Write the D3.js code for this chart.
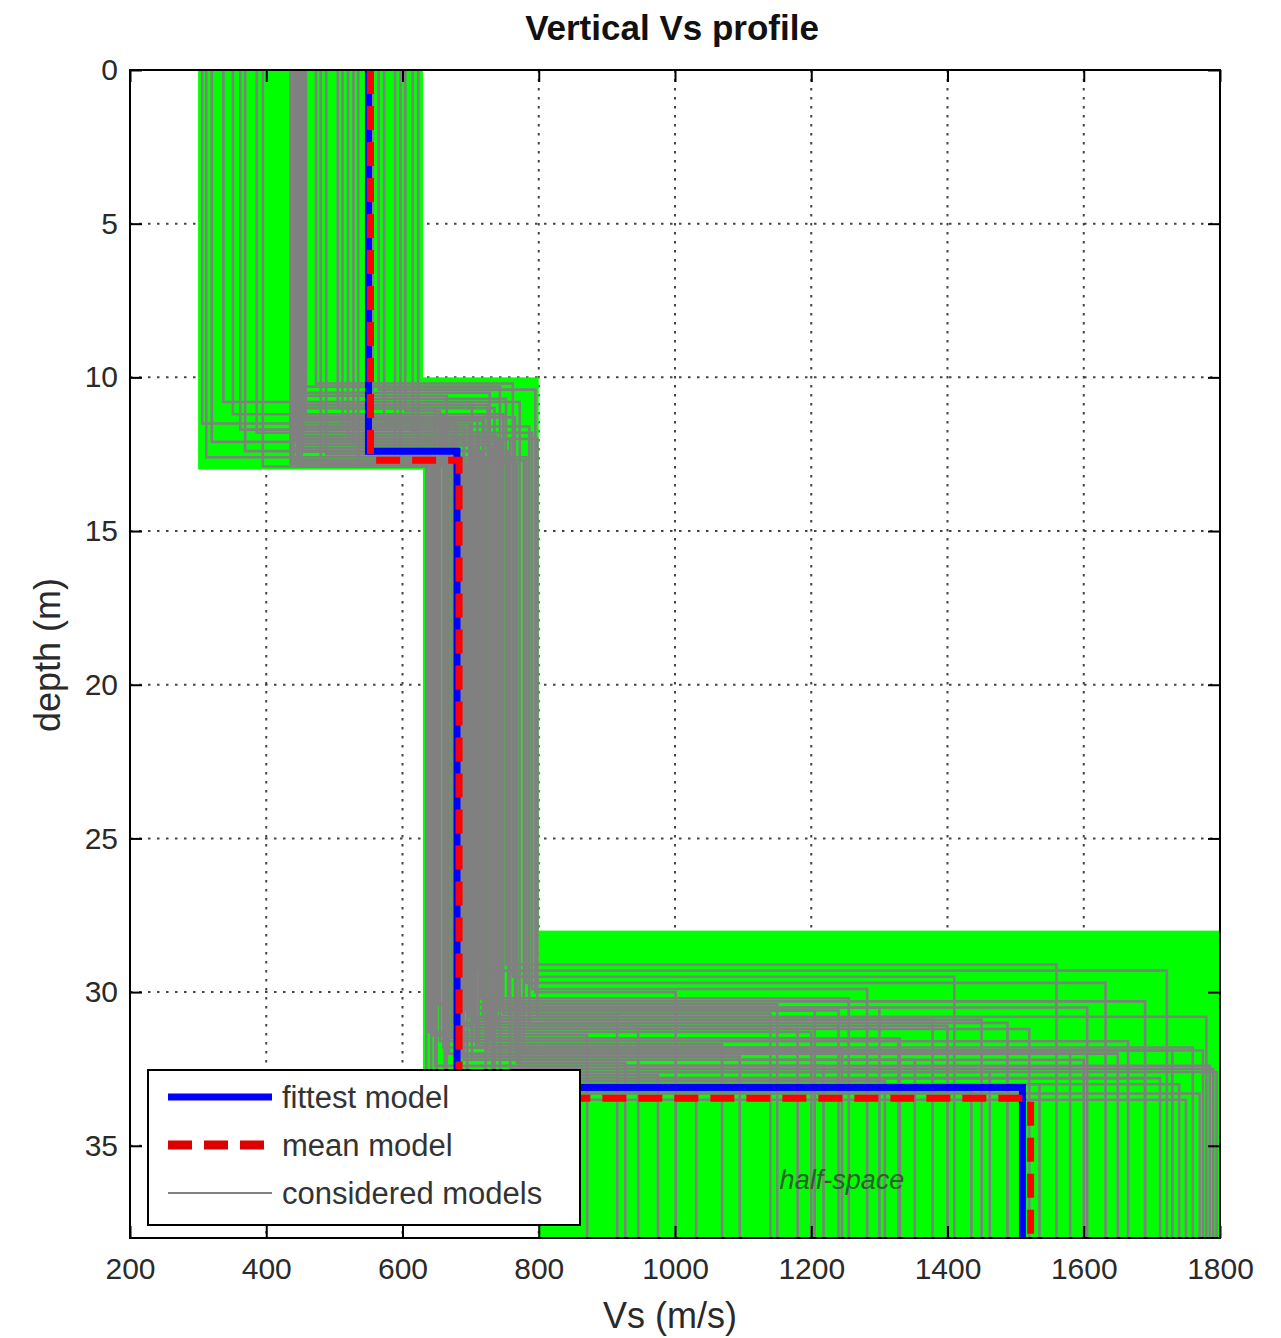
<!DOCTYPE html>
<html>
<head>
<meta charset="utf-8">
<script src="https://cdn.jsdelivr.net/npm/d3@7"></script>
<style>
  body { margin: 0; background: #fff; }
  text { font-family: "Liberation Sans", Arial, sans-serif; }
</style>
</head>
<body>
<div id="svg_container"></div>
<script>
/* -----------------------
data
------------------------- */

var vsTicks = [200, 400, 600, 800, 1000, 1200, 1400, 1600, 1800];
var depthTicks = [0, 5, 10, 15, 20, 25, 30, 35];
var maxDepth = 38;

// search space of each layer (green boxes)
var boxVsMin = [300, 630, 800];
var boxVsMax = [630, 800, 1800];
var boxTop = [0, 10, 28];
var boxBottom = [13, 34, 38];

// considered models: Vs of 3 layers + depth of 2 interfaces
var modelVs1 = [306, 320, 337, 351, 369, 386, 436, 442, 448, 454, 473, 488, 505, 520, 535, 548, 556, 573,
                589, 604, 623, 440, 445, 452, 438, 450, 312, 362, 480, 512, 528, 565, 597, 615, 395, 458,
                436, 442, 448, 454, 440, 445, 452, 438, 450, 458, 436, 442, 448, 454, 440, 445, 452, 438];
var modelZ1  = [11.5, 12.1, 10.8, 11.2, 12.4, 11.8, 12.8, 10.5, 11.6, 12.2, 10.2, 12.5, 11.0, 11.9, 12.9, 10.7, 12.3, 11.4,
                12.6, 11.1, 12.0, 12.7, 11.3, 12.4, 10.9, 12.0, 12.6, 11.7, 12.8, 11.5, 12.2, 10.4, 12.5, 11.8, 12.9, 11.2,
                12.3, 11.0, 12.6, 10.6, 12.1, 11.7, 12.9, 10.9, 12.2, 11.4, 12.8, 11.9, 10.3, 12.4, 11.3, 12.7, 11.6, 12.0];
var modelVs2 = [700, 745, 772, 660, 715, 790, 650, 728, 690, 705, 762, 642, 735, 675, 695, 752, 668, 720,
                782, 655, 740, 685, 710, 635, 725, 758, 645, 698, 768, 680, 732, 795, 662, 712, 688, 748,
                638, 648, 652, 665, 672, 678, 692, 702, 708, 718, 722, 738, 743, 755, 765, 778, 786, 798];
var modelZ2  = [31.2, 30.6, 32.4, 31.8, 30.2, 29.9, 32.9, 31.5, 32.2, 30.9, 29.5, 33.2, 32.6, 31.0, 33.0, 29.1, 32.0, 30.5,
                29.7, 31.6, 30.3, 32.8, 29.3, 33.5, 31.9, 32.5, 31.4, 30.8, 32.3, 31.1, 32.7, 30.0, 33.1, 31.7, 32.1, 30.7,
                31.3, 32.4, 30.4, 33.3, 31.5, 32.8, 30.6, 32.2, 31.8, 30.9, 33.0, 31.2, 32.6, 30.5, 31.9, 32.0, 31.1, 30.8];
var modelVs3 = [1180, 1205, 1218, 1245, 1255, 1282, 1308, 1328, 1352, 1378, 1410, 1435, 1462, 1488, 1535, 1560, 1580, 1605,
                1632, 1665, 1690, 1712, 1722, 1750, 1775, 1790, 871, 915, 927, 946, 975, 1001, 1031, 1069, 1095, 1140,
                1200, 1785, 1150, 1770, 1330, 1690, 1240, 1600, 1760, 1450, 1740, 1520, 1795, 1300, 1730, 1650, 1400, 1780];

var fittestVs = [550, 680, 1510];
var fittestZ = [12.4, 33.1];
var meanVs = [553, 683, 1522];
var meanZ = [12.7, 33.45];

var legendLabels = ["fittest model", "mean model", "considered models"];

/* -----------------------
main variables
------------------------- */

var width = 1281, height = 1338;
var margin = {top: 70, right: 61, bottom: 100, left: 130};
var plotW = width - margin.left - margin.right,
    plotH = height - margin.top - margin.bottom;

var svg = d3.select("#svg_container")
    .append("svg")
    .attr("width", width)
    .attr("height", height);

var plot = svg.append("g")
    .attr("transform", "translate(" + margin.left + "," + margin.top + ")");

var x = d3.scaleLinear().domain([200, 1800]).range([0, plotW]);
var y = d3.scaleLinear().domain([0, maxDepth]).range([0, plotH]);

svg.append("clipPath").attr("id", "clip")
    .append("rect").attr("width", plotW).attr("height", plotH);

/* -----------------------
grid
------------------------- */

plot.append("g").selectAll("line")
    .data(vsTicks.slice(1, -1))
    .join("line")
    .attr("x1", d => x(d)).attr("x2", d => x(d))
    .attr("y1", 0).attr("y2", plotH)
    .attr("stroke", "#444").attr("stroke-width", 2)
    .attr("stroke-dasharray", "2.5,6.5");

plot.append("g").selectAll("line")
    .data(depthTicks.slice(1))
    .join("line")
    .attr("x1", 0).attr("x2", plotW)
    .attr("y1", d => y(d)).attr("y2", d => y(d))
    .attr("stroke", "#444").attr("stroke-width", 2)
    .attr("stroke-dasharray", "2.5,6.5");

/* -----------------------
search space boxes
------------------------- */

var data = plot.append("g").attr("clip-path", "url(#clip)");

data.selectAll("rect.box")
    .data(boxVsMin)
    .join("rect")
    .attr("class", "box")
    .attr("x", (d, i) => x(d))
    .attr("y", (d, i) => y(boxTop[i]))
    .attr("width", (d, i) => x(boxVsMax[i]) - x(d))
    .attr("height", (d, i) => y(boxBottom[i]) - y(boxTop[i]))
    .attr("fill", "#00ff00");

/* -----------------------
profiles
------------------------- */

function profile(vs, z) {
    var pts = [[vs[0], 0]];
    for (var i = 0; i < z.length; i++) {
        pts.push([vs[i], z[i]]);
        pts.push([vs[i + 1], z[i]]);
    }
    pts.push([vs[vs.length - 1], maxDepth]);
    return pts;
}

var line = d3.line()
    .x(d => x(d[0]))
    .y(d => y(d[1]));

var models = modelVs1.map(function(v, i) {
    return profile([v, modelVs2[i], modelVs3[i]], [modelZ1[i], modelZ2[i]]);
});

data.selectAll("path.model")
    .data(models)
    .join("path")
    .attr("class", "model")
    .attr("d", line)
    .attr("fill", "none")
    .attr("stroke", "#808080")
    .attr("stroke-width", 2.6);

data.append("path")
    .datum(profile(fittestVs, fittestZ))
    .attr("d", line)
    .attr("fill", "none")
    .attr("stroke", "#0000ff")
    .attr("stroke-width", 7);

data.append("path")
    .datum(profile(meanVs, meanZ))
    .attr("d", line)
    .attr("fill", "none")
    .attr("stroke", "#ff0000")
    .attr("stroke-width", 7)
    .attr("stroke-dasharray", "24,12");

plot.append("text")
    .attr("x", x(1245))
    .attr("y", y(36.4))
    .attr("text-anchor", "middle")
    .attr("font-size", "27px")
    .attr("font-style", "italic")
    .attr("fill", "#276227")
    .text("half-space");

/* -----------------------
axes
------------------------- */

plot.append("rect")
    .attr("width", plotW).attr("height", plotH)
    .attr("fill", "none").attr("stroke", "#000").attr("stroke-width", 2);

var tk = 12;
var fmt = d3.format("d");
var axB = plot.append("g").attr("transform", "translate(0," + plotH + ")")
    .call(d3.axisBottom(x).tickValues(vsTicks).tickFormat(fmt).tickSizeInner(-tk).tickSizeOuter(0).tickPadding(20));
var axT = plot.append("g")
    .call(d3.axisTop(x).tickValues(vsTicks).tickSizeInner(-tk).tickSizeOuter(0).tickFormat(""));
var axL = plot.append("g")
    .call(d3.axisLeft(y).tickValues(depthTicks).tickFormat(fmt).tickSizeInner(-tk).tickSizeOuter(0).tickPadding(12));
var axR = plot.append("g").attr("transform", "translate(" + plotW + ",0)")
    .call(d3.axisRight(y).tickValues(depthTicks).tickSizeInner(-tk).tickSizeOuter(0).tickFormat(""));

[axB, axT, axL, axR].forEach(function(a) {
    a.select(".domain").remove();
    a.selectAll("line").attr("stroke", "#000").attr("stroke-width", 2);
    a.selectAll("text").attr("font-size", "30px").attr("fill", "#2a2a2a")
        .attr("font-family", "'Liberation Sans', Arial, sans-serif");
});

/* -----------------------
labels
------------------------- */

svg.append("text")
    .attr("x", 672).attr("y", 40)
    .attr("text-anchor", "middle")
    .attr("font-size", "35px").attr("font-weight", "bold").attr("fill", "#111")
    .text("Vertical Vs profile");

svg.append("text")
    .attr("x", 670).attr("y", 1328)
    .attr("text-anchor", "middle")
    .attr("font-size", "36px").attr("fill", "#2a2a2a")
    .text("Vs (m/s)");

svg.append("text")
    .attr("transform", "translate(60,655) rotate(-90)")
    .attr("text-anchor", "middle")
    .attr("font-size", "36px").attr("fill", "#2a2a2a")
    .text("depth (m)");

/* -----------------------
legend
------------------------- */

var lg = svg.append("g").attr("transform", "translate(148,1070)");
lg.append("rect")
    .attr("width", 432).attr("height", 155)
    .attr("fill", "#fff").attr("stroke", "#000").attr("stroke-width", 2);

var legendStyle = [
    {stroke: "#0000ff", w: 7, dash: null},
    {stroke: "#dd0000", w: 9, dash: "24,12"},
    {stroke: "#808080", w: 2, dash: null}
];

legendLabels.forEach(function(l, i) {
    var ly = 27 + i * 48;
    lg.append("line")
        .attr("x1", 20).attr("x2", 124)
        .attr("y1", ly).attr("y2", ly)
        .attr("stroke", legendStyle[i].stroke)
        .attr("stroke-width", legendStyle[i].w)
        .attr("stroke-dasharray", legendStyle[i].dash);
    lg.append("text")
        .attr("x", 134).attr("y", ly + 11)
        .attr("font-size", "31px").attr("fill", "#333")
        .text(l);
});
</script>
</body>
</html>
